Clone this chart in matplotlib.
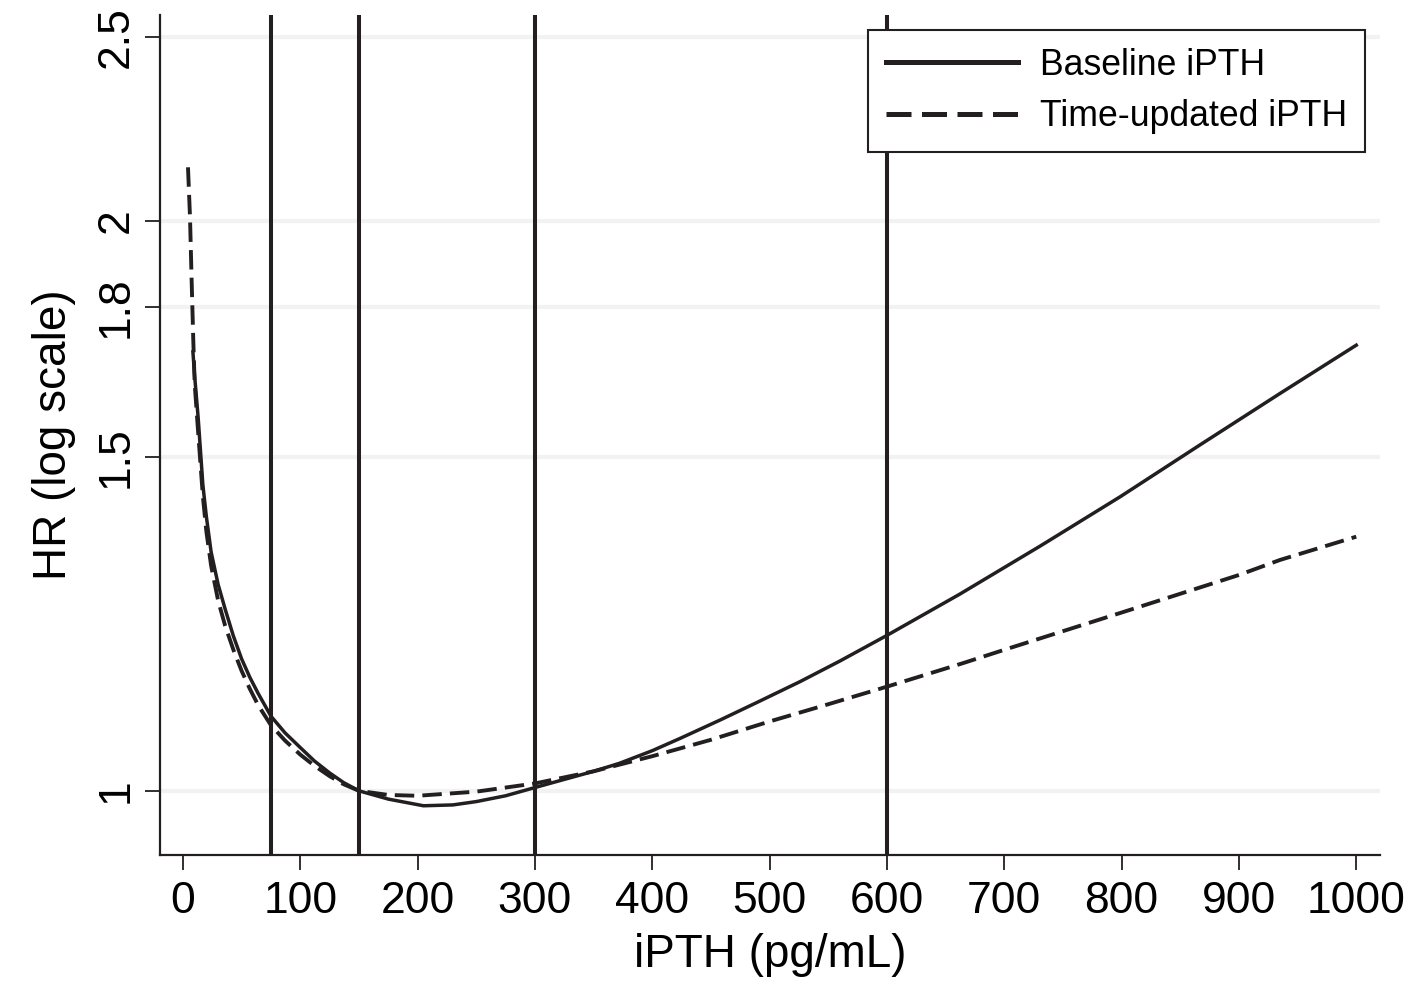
import matplotlib
matplotlib.use("Agg")
import matplotlib.pyplot as plt

plt.rcParams['font.family'] = ['Liberation Sans', 'DejaVu Sans']

# baseline iPTH curve
base_x = [8.5, 10, 13, 17, 20, 24, 30, 36, 43, 50, 57, 64, 75, 87, 100, 112, 125, 137,
          150, 175, 205, 230, 250, 275, 300, 350, 372, 400, 424, 458, 490, 526, 560, 600,
          662, 731, 799, 867, 935, 1000]
base_hr = [1.705, 1.655, 1.573, 1.45, 1.395, 1.337, 1.285, 1.247, 1.207, 1.174, 1.148, 1.126,
           1.095, 1.073, 1.054, 1.037, 1.022, 1.010, 1.0, 0.99, 0.982, 0.983, 0.987, 0.994,
           1.004, 1.024, 1.034, 1.05, 1.066, 1.09, 1.114, 1.142, 1.171, 1.208,
           1.27, 1.347, 1.430, 1.523, 1.621, 1.719]

# time-updated iPTH curve
upd_x = [4.3, 6, 7.4, 8.8, 10, 13, 17, 20, 24, 30, 36, 43, 50, 57, 64, 75, 87, 100, 112, 125,
         137, 150, 175, 200, 250, 300, 350, 400, 450, 500, 550, 600, 665, 700, 800, 900, 935, 1000]
upd_hr = [2.134, 2.01, 1.86, 1.73, 1.64, 1.545, 1.43, 1.37, 1.315, 1.26, 1.222, 1.187, 1.157,
          1.132, 1.11, 1.083, 1.063, 1.045, 1.031, 1.018, 1.008, 1.0, 0.995, 0.994, 0.999,
          1.009, 1.024, 1.043, 1.064, 1.088, 1.111, 1.135, 1.168, 1.187, 1.242, 1.30, 1.324, 1.362]

cutpoints = [75, 150, 300, 600]
yticks = [1, 1.5, 1.8, 2, 2.5]
ytick_labels = ["1", "1.5", "1.8", "2", "2.5"]
xticks = [0, 100, 200, 300, 400, 500, 600, 700, 800, 900, 1000]

fig = plt.figure(figsize=(14.18, 10.01), dpi=100)
ax = fig.add_axes([0.1128, 0.1459, 0.8602, 0.8391])

ax.set_yscale('log')
for t in yticks:
    ax.axhline(t, color='#f2f2f2', lw=3, zorder=0)

for c in cutpoints:
    ax.axvline(c, color='#231f20', lw=2.9, zorder=2)

ax.plot(base_x, base_hr, color='#231f20', lw=2.5, label='Baseline iPTH', zorder=3)
ax.plot(upd_x, upd_hr, color='#231f20', lw=2.8, dashes=(5, 2.1), label='Time-updated iPTH', zorder=3)

ax.set_xlim(-19.6, 1020)
ax.set_ylim(0.925, 2.568)
ax.set_yticks(yticks)
ax.set_yticklabels(ytick_labels, rotation=90, va='center')
ax.minorticks_off()
ax.set_xticks(xticks)

ax.spines['top'].set_visible(False)
ax.spines['right'].set_visible(False)
for s in ['left', 'bottom']:
    ax.spines[s].set_linewidth(1.6)
    ax.spines[s].set_color('#231f20')

ax.tick_params(axis='both', length=11, width=1.3, color='#231f20', labelsize=32, pad=8)
ax.tick_params(axis='y', pad=6)

ax.set_xlabel('iPTH (pg/mL)', fontsize=33, labelpad=8)
ax.set_ylabel('HR (log scale)', fontsize=33, labelpad=14)

leg = ax.legend(loc='upper right', bbox_to_anchor=(0.9877, 0.982), fontsize=25.7,
                frameon=True, fancybox=False, edgecolor='#231f20', framealpha=1,
                handlelength=3.7, handletextpad=0.6, borderpad=0.5, labelspacing=0.45,
                borderaxespad=0)
leg.get_frame().set_linewidth(1.5)
for ln in leg.get_lines():
    ln.set_linewidth(3.6)

fig.savefig('out.png', dpi=100)
